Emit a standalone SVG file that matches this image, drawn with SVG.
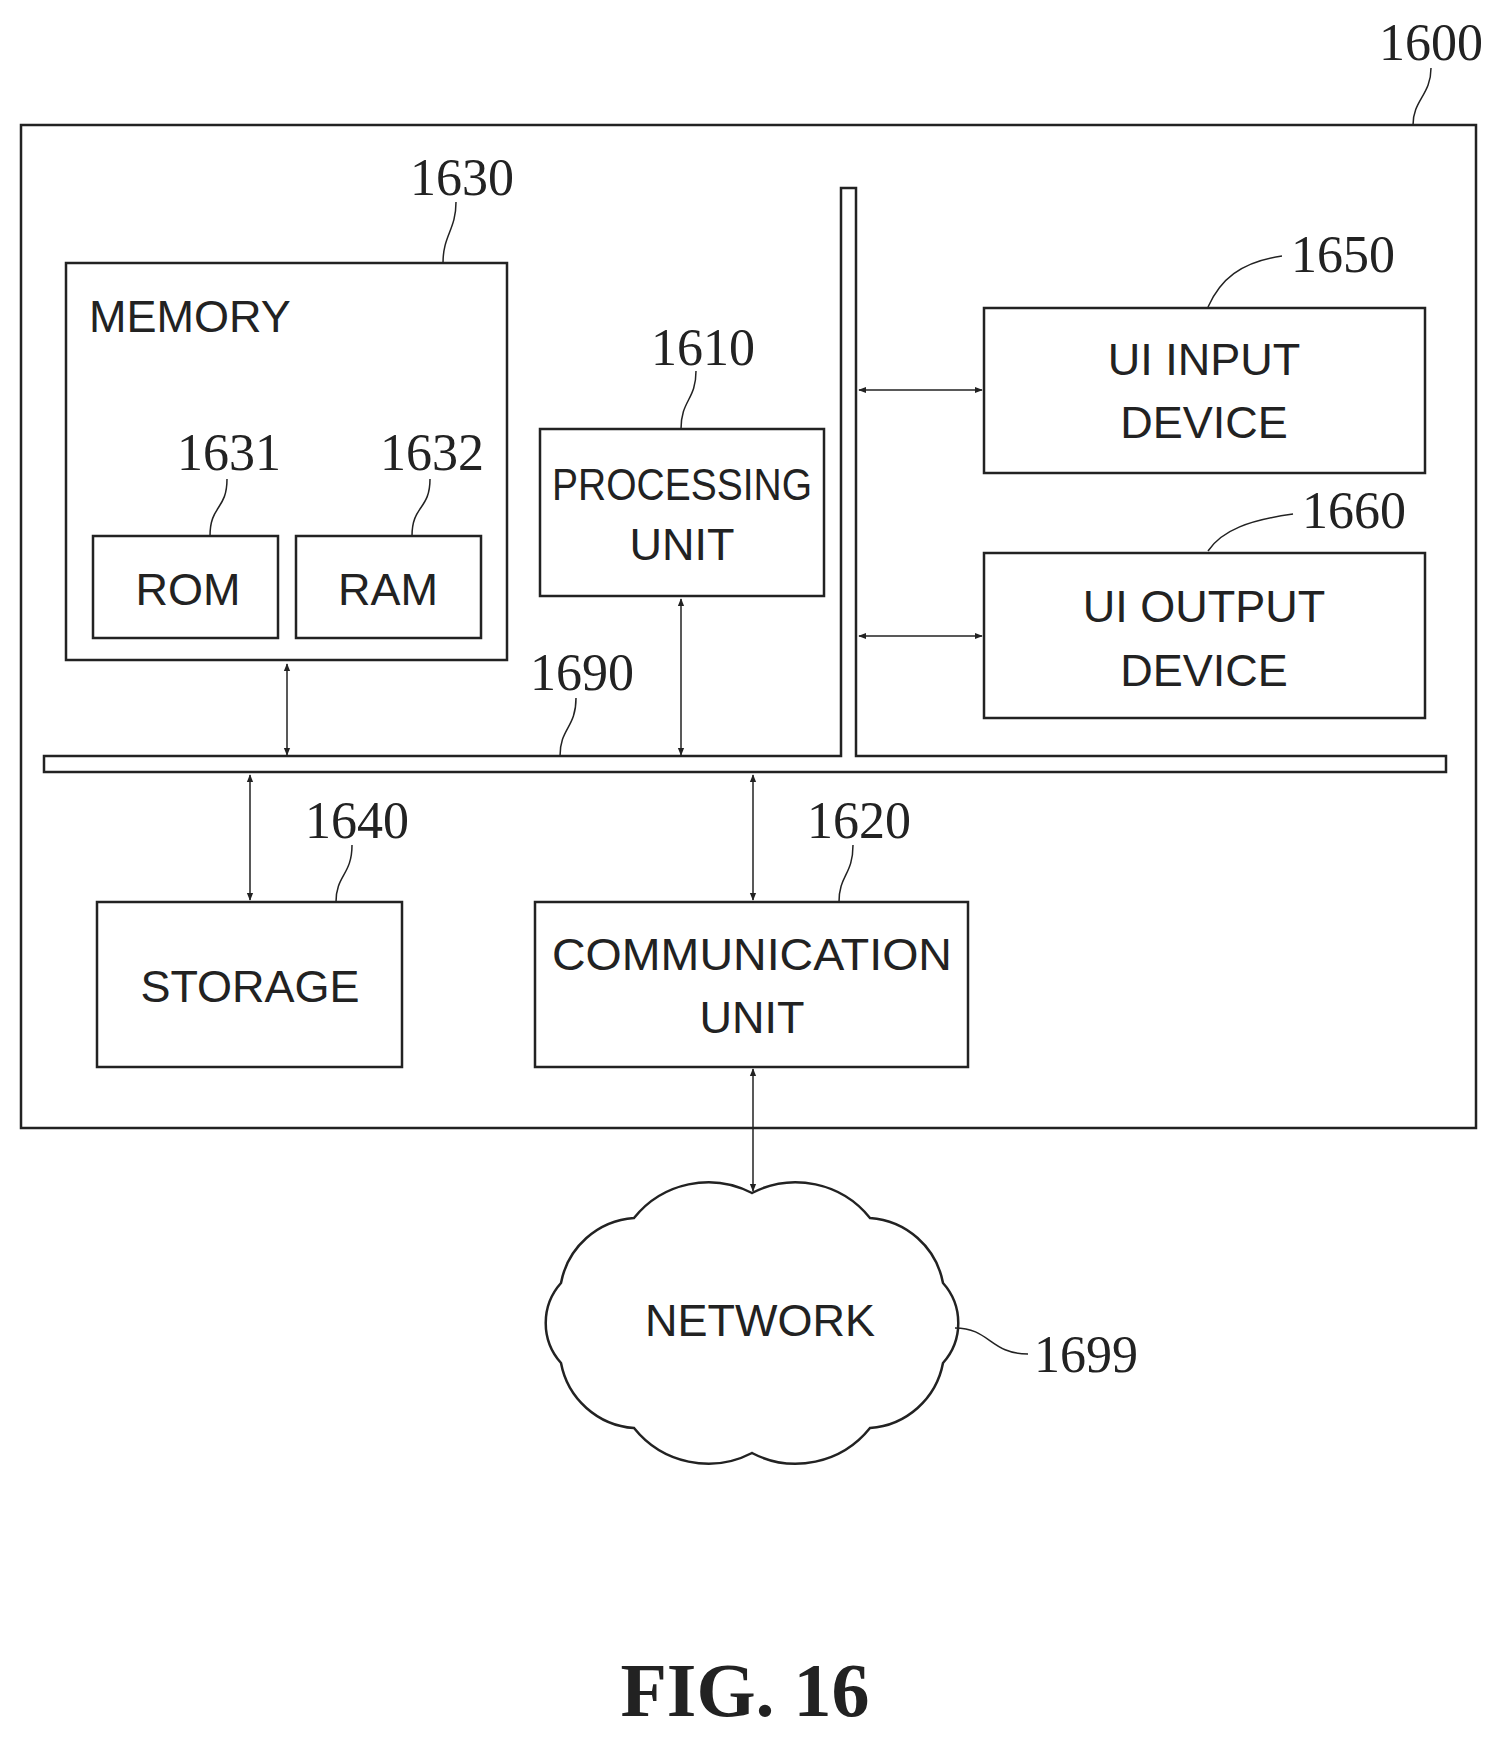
<svg xmlns="http://www.w3.org/2000/svg" width="1507" height="1741" viewBox="0 0 1507 1741">
<style>
.b{fill:none;stroke:#222;stroke-width:2.5}
.l{fill:none;stroke:#222;stroke-width:1.5}
.t{font-family:"Liberation Sans",Arial,sans-serif;font-size:45px;fill:#222;text-anchor:middle}
.n{font-family:"Liberation Serif","Times New Roman",serif;font-size:52px;fill:#222;text-anchor:middle}
.a{stroke:#222;stroke-width:1.5;marker-start:url(#h);marker-end:url(#h)}
</style>
<defs><marker id="h" viewBox="0 0 10 10" refX="9" refY="5" markerWidth="8" markerHeight="8" orient="auto-start-reverse" markerUnits="userSpaceOnUse"><path d="M0,1 L10,5 L0,9 Z" fill="#222"/></marker></defs>
<rect width="1507" height="1741" fill="#fff"/>
<g id="n1600"><rect class="b" x="21" y="125" width="1455" height="1003"/><text class="n" x="1431" y="60">1600</text><path class="l" d="M1431,68 C1431,95 1413,100 1413,125"/></g>
<g id="n1630"><rect class="b" x="66" y="263" width="441" height="397"/><text class="t" x="89" y="332" style="text-anchor:start">MEMORY</text><text class="n" x="462" y="195">1630</text><path class="l" d="M456,202 C456,230 443,235 443,263"/></g>
<g id="n1631"><rect class="b" x="93" y="536" width="185" height="102"/><text class="t" x="188" y="605">ROM</text><text class="n" x="229" y="470">1631</text><path class="l" d="M227,479 C227,510 210,505 210,536"/></g>
<g id="n1632"><rect class="b" x="296" y="536" width="185" height="102"/><text class="t" x="388" y="605">RAM</text><text class="n" x="432" y="470">1632</text><path class="l" d="M430,479 C430,510 412,505 412,536"/></g>
<g id="n1610"><rect class="b" x="540" y="429" width="284" height="167"/><text class="t" x="682" y="500" textLength="260" lengthAdjust="spacingAndGlyphs">PROCESSING</text><text class="t" x="682" y="560">UNIT</text><text class="n" x="703" y="365">1610</text><path class="l" d="M696,371 C696,400 681,400 681,429"/></g>
<g id="n1690"><path class="b" d="M44,756 H841 V188 H856 V756 H1446 V772 H44 Z"/><text class="n" x="582" y="690">1690</text><path class="l" d="M576,698 C576,728 560,728 560,756"/></g>
<g id="n1650"><rect class="b" x="984" y="308" width="441" height="165"/><text class="t" x="1204" y="375">UI INPUT</text><text class="t" x="1204" y="438">DEVICE</text><text class="n" x="1343" y="272">1650</text><path class="l" d="M1282,256 C1240,262 1220,280 1208,307"/></g>
<g id="n1660"><rect class="b" x="984" y="553" width="441" height="165"/><text class="t" x="1204" y="622">UI OUTPUT</text><text class="t" x="1204" y="686">DEVICE</text><text class="n" x="1354" y="528">1660</text><path class="l" d="M1293,514 C1250,520 1222,530 1208,551"/></g>
<g id="n1640"><rect class="b" x="97" y="902" width="305" height="165"/><text class="t" x="250" y="1002">STORAGE</text><text class="n" x="357" y="838">1640</text><path class="l" d="M352,845 C352,875 336,875 336,902"/></g>
<g id="n1620"><rect class="b" x="535" y="902" width="433" height="165"/><text class="t" x="752" y="970" textLength="400" lengthAdjust="spacingAndGlyphs">COMMUNICATION</text><text class="t" x="752" y="1033">UNIT</text><text class="n" x="859" y="838">1620</text><path class="l" d="M853,845 C853,875 839,875 839,902"/></g>
<g id="n1699"><path class="b" d="M752,1193 A95,95 0 0 1 870,1218 A80,80 0 0 1 943,1283 A60,60 0 0 1 943,1363 A80,80 0 0 1 870,1428 A95,95 0 0 1 752,1453 A95,95 0 0 1 634,1428 A80,80 0 0 1 561,1363 A60,60 0 0 1 561,1283 A80,80 0 0 1 634,1218 A95,95 0 0 1 752,1193 Z"/><text class="t" x="760" y="1336">NETWORK</text><text class="n" x="1086" y="1372">1699</text><path class="l" d="M955,1328 C990,1328 990,1354 1028,1354"/></g>
<g id="connectors">
<line class="a" x1="287" y1="664" x2="287" y2="755"/>
<line class="a" x1="681" y1="599" x2="681" y2="755"/>
<line class="a" x1="859" y1="390" x2="982" y2="390"/>
<line class="a" x1="859" y1="636" x2="982" y2="636"/>
<line class="a" x1="250" y1="775" x2="250" y2="900"/>
<line class="a" x1="753" y1="775" x2="753" y2="900"/>
<line class="a" x1="753" y1="1069" x2="753" y2="1191"/>
</g>
<text x="745" y="1716" style="font-family:'Liberation Serif','Times New Roman',serif;font-size:76px;font-weight:bold;fill:#222;text-anchor:middle">FIG. 16</text>
</svg>
